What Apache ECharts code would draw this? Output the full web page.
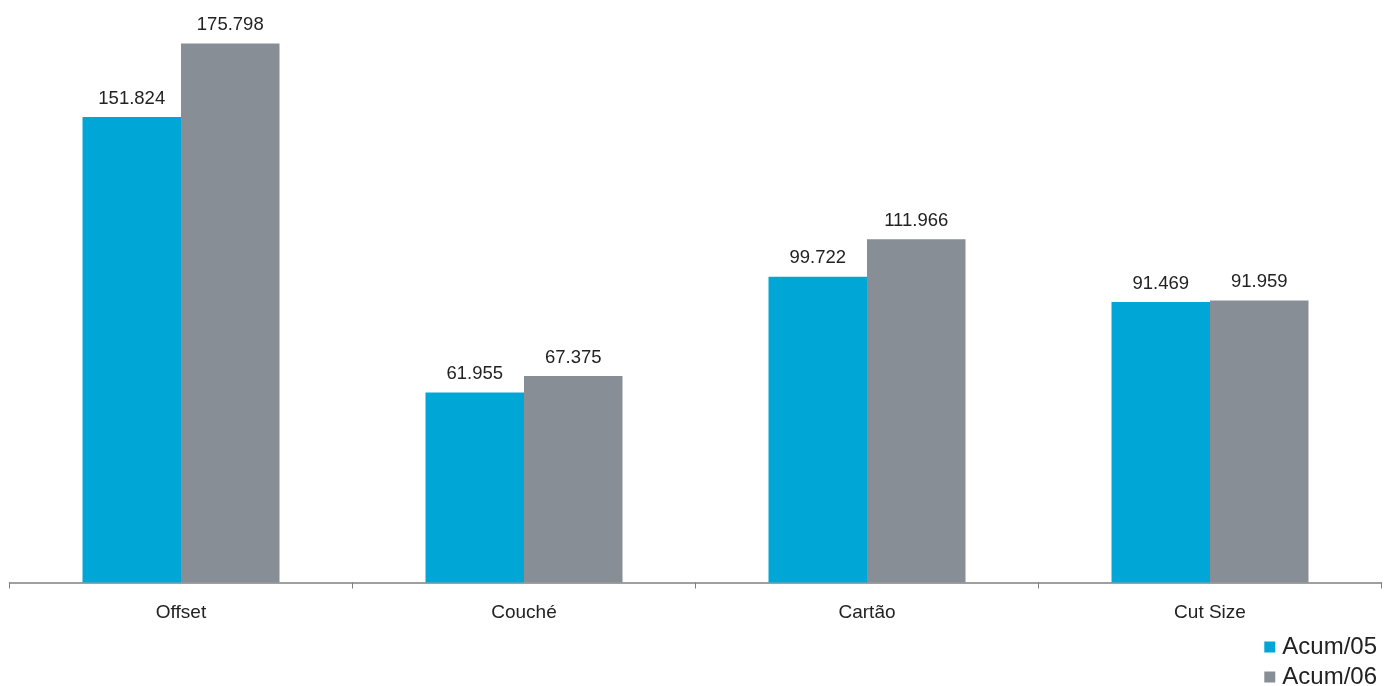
<!DOCTYPE html>
<html><head><meta charset="utf-8">
<script src="https://cdn.jsdelivr.net/npm/echarts@6/dist/echarts.min.js"></script>
<style>html,body{margin:0;padding:0;background:#fff}#c{width:1395px;height:686px}</style>
</head><body><div id="c"></div>
<script>
const categories = ['Offset', 'Couché', 'Cartão', 'Cut Size'];
const acum05 = [151.824, 61.955, 99.722, 91.469];
const acum06 = [175.798, 67.375, 111.966, 91.959];
const seriesNames = ['Acum/05', 'Acum/06'];
const colors = ['#00A7D6', '#878E95'];
const fmt = v => v.toFixed(3);
const FF = 'Liberation Sans, Arial, sans-serif';
const chart = echarts.init(document.getElementById('c'));
const mk = (name, data, color) => ({
  name, type: 'bar', data, barWidth: 98.5, barGap: '0%',
  itemStyle: { color },
  label: { show: true, position: 'top', distance: 9, fontSize: 18.5, color: '#222',
    fontFamily: FF, formatter: p => fmt(p.value) }
});
const lg = (name, top) => ({
  orient: 'vertical', right: 13, top, itemGap: 0,
  itemWidth: 11, itemHeight: 11, icon: 'rect',
  textStyle: { fontSize: 24, color: '#222', fontFamily: FF, padding: [0,0,0,2] },
  data: [name]
});
chart.setOption({
  animation: false,
  grid: { left: 9.5, right: 13.5, top: 0, bottom: 103.5, containLabel: false },
  legend: [lg(seriesNames[0], 630), lg(seriesNames[1], 660)],
  xAxis: {
    type: 'category', data: categories,
    axisLine: { lineStyle: { color: '#808080', width: 1.5 } },
    axisTick: { show: true, length: 6, lineStyle: { color: '#808080' } },
    axisLabel: { fontSize: 19, color: '#222', margin: 21, fontFamily: FF }
  },
  yAxis: { type: 'value', min: 0, max: 190, show: false, splitLine: { show: false } },
  series: [mk(seriesNames[0], acum05, colors[0]), mk(seriesNames[1], acum06, colors[1])]
});
</script></body></html>
